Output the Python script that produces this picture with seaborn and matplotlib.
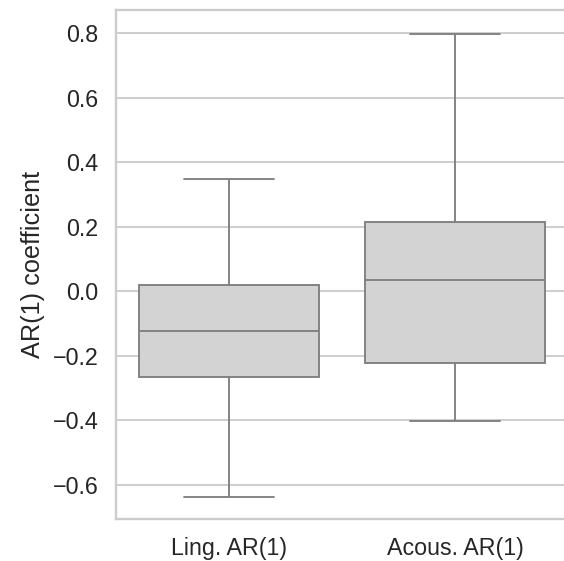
import numpy as np
import pandas as pd
import matplotlib
matplotlib.use("Agg")
import matplotlib.pyplot as plt
import seaborn as sns

# five-number summaries (min, Q1, median, Q3, max)
categories = ["Ling. AR(1)", "Acous. AR(1)"]
ling_vals = [-0.636, -0.265, -0.123, 0.019, 0.348]
acous_vals = [-0.401, -0.222, 0.036, 0.216, 0.798]

df = pd.DataFrame({
    "feature": [categories[0]] * len(ling_vals) + [categories[1]] * len(acous_vals),
    "coef": ling_vals + acous_vals,
})

sns.set_theme(style="whitegrid", context="notebook",
              rc={"xtick.labelsize": 12.5, "ytick.labelsize": 12.5,
                  "axes.labelsize": 13.6})
plt.rcParams["font.family"] = ["Liberation Sans", "DejaVu Sans"]

dpi = 134
fig = plt.figure(figsize=(564 / dpi, 561 / dpi), dpi=dpi)
ax = fig.add_axes([116 / 564, 42 / 561, 452 / 564, 509 / 561])

sns.boxplot(data=df, x="feature", y="coef", order=categories,
            color="lightgray", whis=np.inf, ax=ax)

ax.set_xlabel("")
ax.set_ylabel("AR(1) coefficient")
ax.set_ylim(-0.705, 0.871)
ax.set_yticks([-0.6, -0.4, -0.2, 0.0, 0.2, 0.4, 0.6, 0.8])

fig.savefig("out.png", dpi=dpi)
